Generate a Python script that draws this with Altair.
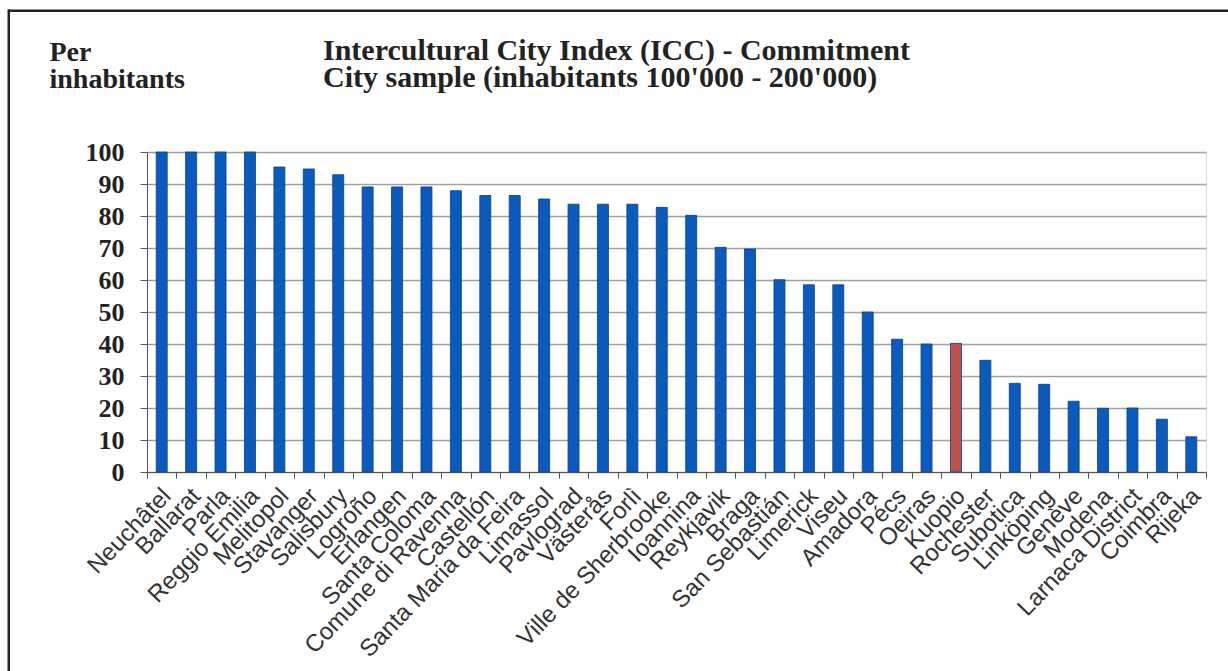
import altair as alt
import pandas as pd

cities = ["Neuchâtel", "Ballarat", "Parla", "Reggio Emilia", "Melitopol", "Stavanger",
          "Salisbury", "Logroño", "Erlangen", "Santa Coloma", "Comune di Ravenna",
          "Castellón", "Santa Maria da Feira", "Limassol", "Pavlograd", "Västerås",
          "Forlì", "Ville de Sherbrooke", "Ioannina", "Reykjavik", "Braga",
          "San Sebastián", "Limerick", "Viseu", "Amadora", "Pécs", "Oeiras", "Kuopio",
          "Rochester", "Subotica", "Linköping", "Genève", "Modena", "Larnaca District",
          "Coimbra", "Rijeka"]
values = [100, 100, 100, 100, 95.3, 94.7, 92.9, 89.1, 89.1, 89.1, 87.9, 86.4, 86.4,
          85.3, 83.7, 83.7, 83.7, 82.7, 80.2, 70.2, 69.7, 60.1, 58.5, 58.5, 50.0, 41.5,
          40.0, 40.2, 34.9, 27.7, 27.4, 22.1, 19.9, 20.0, 16.5, 11.0]
highlight = ["Kuopio"]

df = pd.DataFrame({"city": cities, "value": values})
df["group"] = ["highlight" if c in highlight else "other" for c in cities]

SERIF = "Liberation Serif"
SANS = "Liberation Sans"

bars = alt.Chart(df).mark_bar(width=11, stroke="#0a3f85", strokeWidth=0.8).encode(
    x=alt.X("city:N", sort=cities, title=None,
            scale=alt.Scale(paddingInner=0, paddingOuter=0),
            axis=alt.Axis(labelAngle=-46, labelAlign="right", labelBaseline="middle",
                          labelFont=SANS, labelFontSize=24, labelColor="#333333",
                          labelPadding=14, labelOffset=5, labelLimit=0,
                          tickBand="extent", tickSize=6,
                          tickColor="#555555", domainColor="#555555", grid=False,
                          labelOverlap=False)),
    y=alt.Y("value:Q", scale=alt.Scale(domain=[0, 100], nice=False),
            title=["Per", "inhabitants"],
            axis=alt.Axis(values=list(range(0, 101, 10)), labelFont=SERIF,
                          labelFontSize=26, labelFontWeight="bold", labelColor="#222222",
                          labelPadding=16, tickSize=7, tickColor="#555555",
                          domainColor="#555555", gridColor="#a0a0a0", gridWidth=1.5,
                          titleAngle=0, titleAlign="left", titleBaseline="alphabetic",
                          titleX=-98, titleY=-92, titleFont=SERIF, titleFontSize=28,
                          titleFontWeight="bold", titleColor="#222222",
                          titleLineHeight=27)),
    color=alt.Color("group:N", scale=alt.Scale(domain=["other", "highlight"],
                                                range=["#0b5bbf", "#c0504d"]),
                    legend=None),
)

frame_data = pd.DataFrame({"f": [0]})
frame_top = alt.Chart(frame_data).mark_rect(color="#222222").encode(
    x=alt.value(-139), x2=alt.value(1081), y=alt.value(-142.5), y2=alt.value(-140))
frame_left = alt.Chart(frame_data).mark_rect(color="#222222").encode(
    x=alt.value(-139.5), x2=alt.value(-137), y=alt.value(-142.5), y2=alt.value(519))

chart = alt.layer(bars, frame_top, frame_left).properties(
    width=1059, height=320,
    padding={"left": 147, "top": 152, "right": 22, "bottom": 199},
    autosize=alt.AutoSizeParams(type="none"),
    title=alt.TitleParams(
        text=["Intercultural City Index (ICC) - Commitment",
              "City sample (inhabitants 100'000 - 200'000)"],
        anchor="start", frame="group", dx=176, offset=-83,
        font=SERIF, fontSize=30, fontWeight="bold", color="#222222", lineHeight=27),
).configure_view(stroke=None).configure(background="white")

chart.save("out.html", embed_options={"renderer": "svg", "actions": False})
